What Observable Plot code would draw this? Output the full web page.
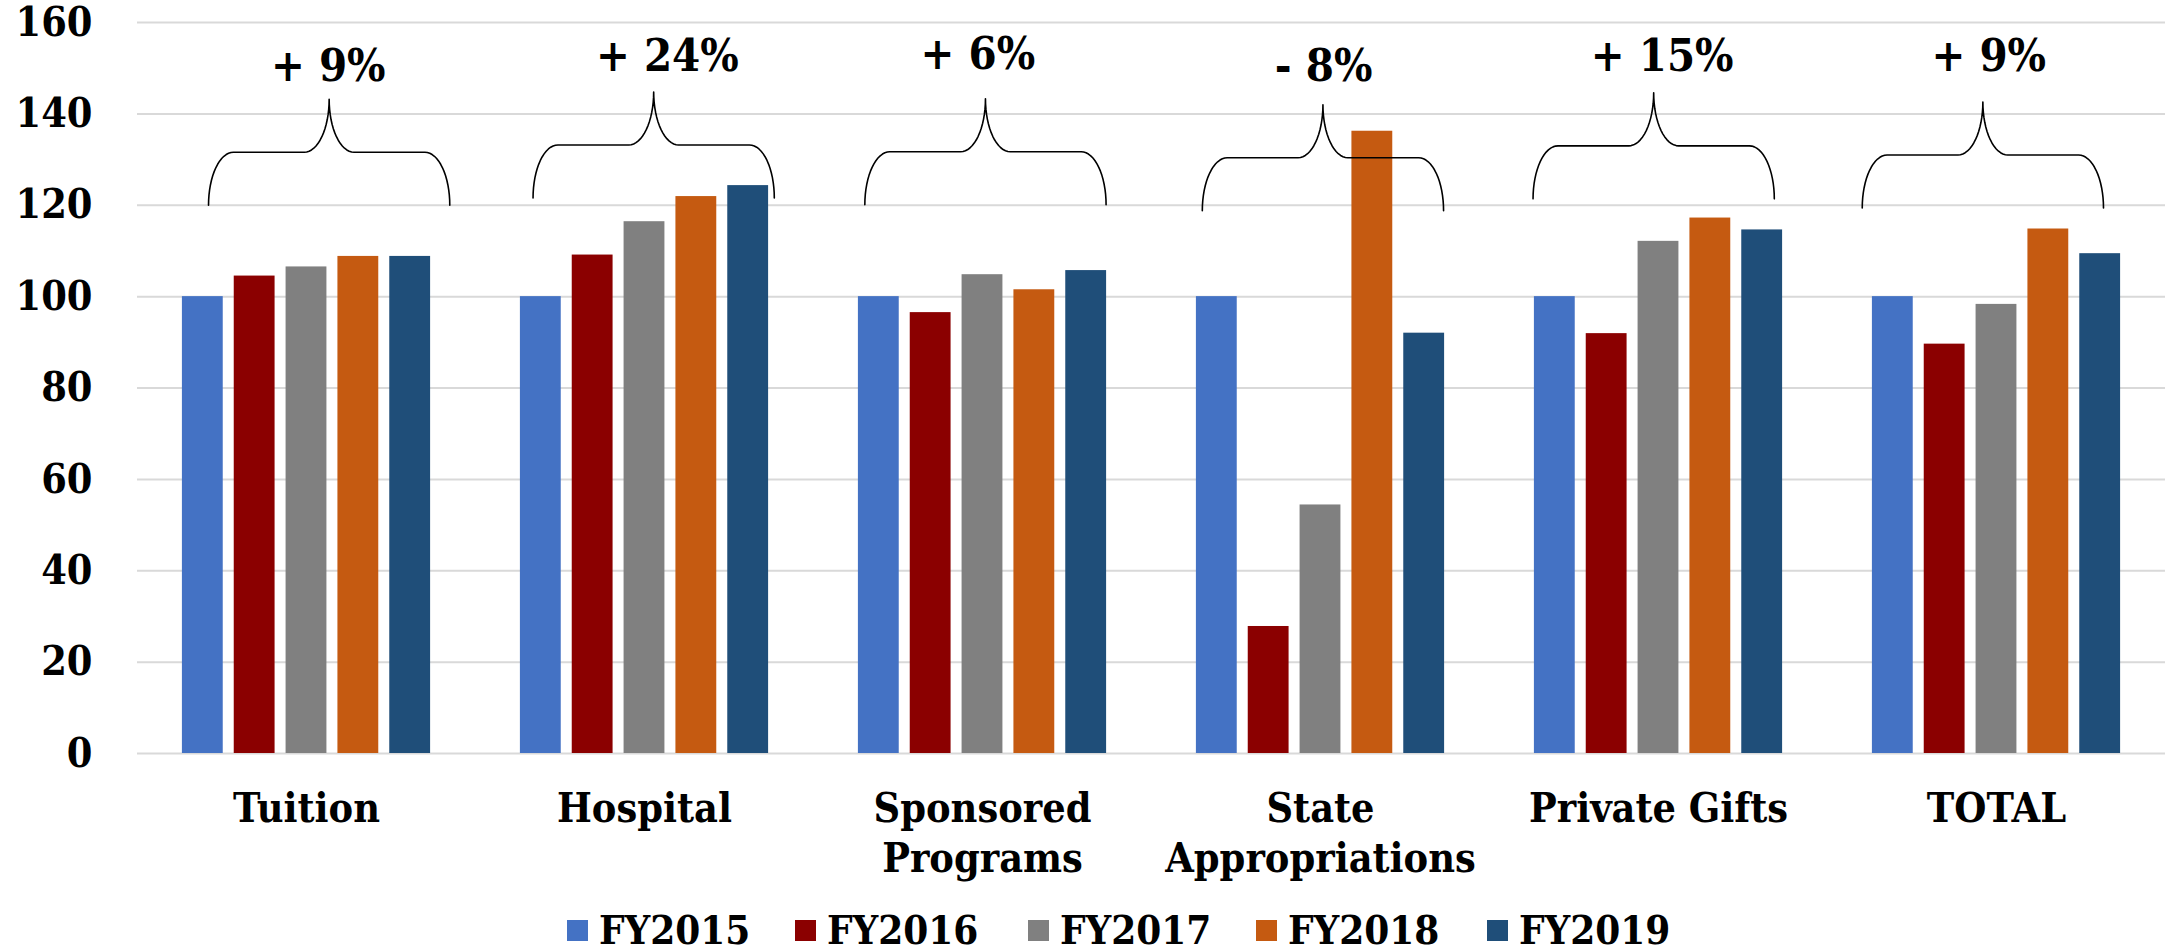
<!DOCTYPE html>
<html>
<head>
<meta charset="utf-8">
<script src="https://cdn.jsdelivr.net/npm/d3@7"></script>
<script src="https://cdn.jsdelivr.net/npm/@observablehq/plot@0.6"></script>
<style>
  html, body { margin: 0; padding: 0; background: #fff; }
  body { width: 2169px; height: 952px; overflow: hidden; }
  #chart svg { display: block; }
  .legend { position: relative; height: 62px; font-family: "DejaVu Serif Condensed", "DejaVu Serif", serif; font-stretch: condensed; font-weight: bold; font-size: 40px; line-height: 40px; color: #000; }
  .legend .item { position: absolute; top: 20px; height: 40px; display: flex; align-items: center; }
  .legend .sw { width: 21px; height: 21px; margin-right: 11px; }
</style>
</head>
<body>
<div id="chart"></div>
<div class="legend" id="legend"></div>
<script>
const categories = ["Tuition", "Hospital", "Sponsored Programs", "State Appropriations", "Private Gifts", "TOTAL"];
const categoryLabels = ["Tuition", "Hospital", "Sponsored\nPrograms", "State\nAppropriations", "Private Gifts", "TOTAL"];
const years = ["FY2015", "FY2016", "FY2017", "FY2018", "FY2019"];
const yearColors = ["#4472C4", "#8B0000", "#808080", "#C55A11", "#1F4E79"];

const fy2015 = [100, 100, 100, 100, 100, 100];
const fy2016 = [104.5, 109.1, 96.5, 27.8, 91.9, 89.6];
const fy2017 = [106.5, 116.4, 104.8, 54.4, 112.1, 98.3];
const fy2018 = [108.8, 121.9, 101.5, 136.2, 117.2, 114.8];
const fy2019 = [108.8, 124.3, 105.7, 92.0, 114.6, 109.4];

const changeLabels = ["+ 9%", "+ 24%", "+ 6%", "- 8%", "+ 15%", "+ 9%"];
// annotation anchors (data units: bar slot along x, index value along y)
const changeLabelX = [2.42, 2.44, 1.91, 2.06, 2.07, 1.85];
const changeLabelY = [150.4, 152.5, 152.9, 150.4, 152.5, 152.5];
const braceStartX = [0.11, -0.15, -0.27, -0.28, -0.42, -0.59];
const braceBaseY = [120, 121.6, 120.1, 118.8, 121.4, 119.4];

const yTicks = [0, 20, 40, 60, 80, 100, 120, 140, 160];

const series = [fy2015, fy2016, fy2017, fy2018, fy2019];
const rows = [];
categories.forEach((cat, ci) => {
  years.forEach((yr, yi) => {
    rows.push({cat, year: yr, slot: yi, value: series[yi][ci]});
  });
});

// curly brace outline for each category
const braceSpan = 4.654, braceRx = 0.48, braceRise = 11.6;
const braces = [];
categories.forEach((cat, ci) => {
  const L = braceStartX[ci], R = L + braceSpan, C = L + braceSpan / 2;
  const b = braceBaseY[ci], m = b + braceRise, t = b + 2 * braceRise;
  const pts = [];
  const N = 16;
  for (let k = 0; k <= N; k++) { const a = (k / N) * Math.PI / 2; pts.push([L + braceRx - braceRx * Math.cos(a), b + (m - b) * Math.sin(a)]); }
  for (let k = 0; k <= N; k++) { const a = (k / N) * Math.PI / 2; pts.push([C - braceRx + braceRx * Math.sin(a), t - (t - m) * Math.cos(a)]); }
  for (let k = 0; k <= N; k++) { const a = (k / N) * Math.PI / 2; pts.push([C + braceRx - braceRx * Math.cos(a), m + (t - m) * (1 - Math.sin(a))]); }
  for (let k = 0; k <= N; k++) { const a = (k / N) * Math.PI / 2; pts.push([R - braceRx + braceRx * Math.sin(a), m - (m - b) * (1 - Math.cos(a))]); }
  pts.forEach(([x, y]) => braces.push({cat, x, y}));
});

const font = '"DejaVu Serif Condensed", "DejaVu Serif", serif';

const chart = Plot.plot({
  width: 2169,
  height: 890,
  marginLeft: 135,
  marginRight: 2,
  marginTop: 22,
  marginBottom: 137,
  style: {fontFamily: font, fontStretch: "condensed", fontWeight: "bold", fontSize: "41px", color: "#000", background: "#fff", overflow: "visible"},
  fx: {domain: categories, padding: 0, axis: null},
  x: {domain: [-1.26, 5.26], axis: null},
  y: {domain: [0, 160], ticks: yTicks, tickSize: 0, tickPadding: 45, label: null, tickFormat: d => String(d)},
  color: {domain: years, range: yearColors},
  marks: [
    Plot.ruleY(yTicks, {stroke: "#d9d9d9", strokeWidth: 2}),
    Plot.rectY(rows, {fx: "cat", x1: d => d.slot - 0.5, x2: d => d.slot + 0.5, y1: 0, y2: "value", fill: "year", insetLeft: 5.5, insetRight: 5.5}),
    Plot.line(braces, {fx: "cat", x: "x", y: "y", z: "cat", stroke: "#000", strokeWidth: 1.6}),
    Plot.text(categories, {fx: d => d, x: (d, i) => changeLabelX[i], y: (d, i) => changeLabelY[i], text: (d, i) => changeLabels[i], fontSize: 45, fill: "#000"}),
    Plot.text(categories, {fx: d => d, text: (d, i) => categoryLabels[i], frameAnchor: "bottom", lineAnchor: "top", dy: 32.5, lineHeight: 1.22, fontSize: 41, fill: "#000"})
  ]
});
document.getElementById("chart").appendChild(chart);

const legend = document.getElementById("legend");
const legendLeft = [567, 795, 1028, 1256, 1487];
years.forEach((yr, i) => {
  const item = document.createElement("div");
  item.className = "item";
  item.style.left = legendLeft[i] + "px";
  const sw = document.createElement("span");
  sw.className = "sw";
  sw.style.background = yearColors[i];
  const tx = document.createElement("span");
  tx.textContent = yr;
  item.appendChild(sw);
  item.appendChild(tx);
  legend.appendChild(item);
});
</script>
</body>
</html>
